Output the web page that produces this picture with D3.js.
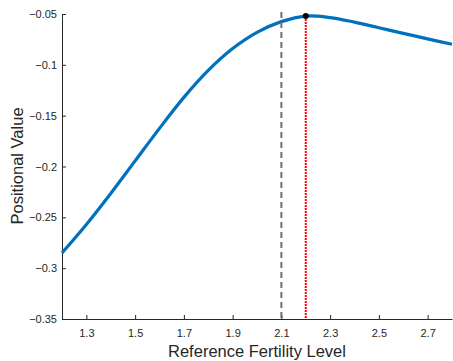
<!DOCTYPE html>
<meta charset="utf-8">
<script src="https://cdn.jsdelivr.net/npm/d3@7"></script>
<style>
body { margin: 0; background: #fff; }
text { font-family: "Liberation Sans", Arial, sans-serif; fill: #262626; }
</style>
<body>
<script>

// data
var fertility = [1.2, 1.3, 1.4, 1.5, 1.6, 1.7, 1.8, 1.9, 2.0, 2.1, 2.2, 2.3, 2.4, 2.5, 2.6, 2.7, 2.8];
var value = [-0.285, -0.257, -0.2265, -0.1945, -0.1625, -0.132, -0.1055, -0.084, -0.068, -0.0575, -0.052, -0.0535, -0.058, -0.0635, -0.069, -0.0745, -0.0798];
var xTicks = [1.3, 1.5, 1.7, 1.9, 2.1, 2.3, 2.5, 2.7];
var yTicks = [-0.35, -0.3, -0.25, -0.2, -0.15, -0.1, -0.05];
var referenceLine = 2.1;
var optimum = {x: 2.2, y: -0.052};

var width = 453,
    height = 361;

var x = d3.scaleLinear().domain([1.2, 2.8]).range([62, 452]);
var y = d3.scaleLinear().domain([-0.35, -0.05]).range([319, 14]);

var svg = d3.select("body").append("svg")
    .attr("width", width)
    .attr("height", height);

// axes, ticks pointing inward like matlab
var xAxis = svg.append("g")
    .attr("transform", "translate(0," + y(-0.35) + ")")
    .call(d3.axisTop(x).tickValues(xTicks).tickSize(4).tickSizeOuter(0).tickFormat(d3.format(".1f")));
xAxis.selectAll("text").attr("y", 18).attr("dy", "0").style("font-size", "11px");

var yAxis = svg.append("g")
    .attr("transform", "translate(" + x(1.2) + ",0)")
    .call(d3.axisRight(y).tickValues(yTicks).tickSize(4).tickSizeOuter(0).tickFormat(function(d) { return d3.format("")(+d.toFixed(2)); }));
yAxis.selectAll("text").attr("x", -5).attr("text-anchor", "end").style("font-size", "11px");

svg.selectAll(".domain").attr("stroke", "#262626");
svg.selectAll(".tick line").attr("stroke", "#262626");

// curve
var line = d3.line()
    .x(function(d, i) { return x(fertility[i]); })
    .y(function(d) { return y(d); })
    .curve(d3.curveCatmullRom);

svg.append("path")
    .datum(value)
    .attr("d", line)
    .attr("fill", "none")
    .attr("stroke", "#0072BD")
    .attr("stroke-width", 3.2);

// reference level
svg.append("line")
    .attr("x1", x(referenceLine)).attr("x2", x(referenceLine))
    .attr("y1", y(-0.05) - 2).attr("y2", y(-0.35))
    .attr("stroke", "#707070")
    .attr("stroke-width", 2)
    .attr("stroke-dasharray", "6,4");

// optimum
svg.append("line")
    .attr("x1", x(optimum.x)).attr("x2", x(optimum.x))
    .attr("y1", y(optimum.y)).attr("y2", y(-0.35))
    .attr("stroke", "#ff0000")
    .attr("stroke-width", 2)
    .attr("stroke-dasharray", "2,1");

svg.append("circle")
    .attr("cx", x(optimum.x))
    .attr("cy", y(optimum.y))
    .attr("r", 3)
    .attr("fill", "#000");

// labels
svg.append("text")
    .attr("x", (x(1.2) + x(2.8)) / 2)
    .attr("y", 357)
    .attr("text-anchor", "middle")
    .style("font-size", "16.5px")
    .text("Reference Fertility Level");

svg.append("text")
    .attr("transform", "translate(23,166) rotate(-90)")
    .attr("text-anchor", "middle")
    .style("font-size", "16.5px")
    .text("Positional Value");

</script>
</body>
